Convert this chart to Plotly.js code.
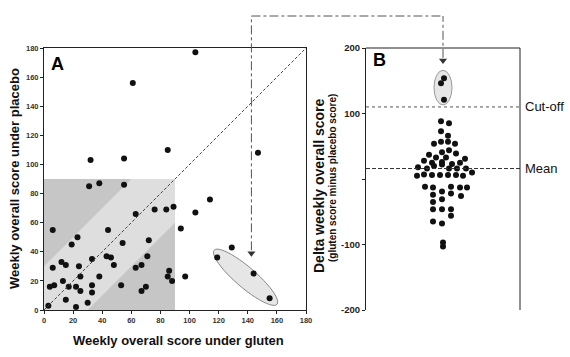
<!DOCTYPE html>
<html><head><meta charset="utf-8">
<script src="https://cdn.plot.ly/plotly-3.0.1.min.js"></script>
<style>html,body{margin:0;padding:0;background:#fff}#chart{width:570px;height:357px}</style>
</head><body><div id="chart"></div>
<script>
// Panel A: weekly overall score under gluten (x) vs placebo (y)
const gluten  = [104,61,147,85,32,55,31,38,55,114,89,84,76,104,63,6,94,44,23,54,72,19,129,33,43,46,71,119,12,15,24,48,67,63,6,86,85,88,97,38,25,13,144,7,4,17,22,33,53,70,25,33,67,15,30,3,22,155];
const placebo = [177,156,108,110,103,104,85,87,86,76,71,69,69,67,66,55,56,55,50,46,48,45,43,35,37,36,37,36,33,31,30,31,31,29,29,27,23,20,23,23,23,20,25,17,16,16,16,17,17,16,13,12,13,7,5,3,2,8];
const axisTicksA = [0,20,40,60,80,100,120,140,160,180];

// Panel B: delta (gluten - placebo), beeswarm offsets
const deltaOffset = [1,-2,1,
  -2,6,-2,5,-9,-2,5,12,-1,6,13,-14,-7,3,22,-19,-11,-1,9,17,
  -25,-16,-9,-1,6,14,23,-26,-19,-11,-3,5,13,20,29,
  -18,-10,-1,8,17,24,-10,8,18,-1,-10,-10,-1,8,8,-10,-1,0,0];
const deltaScore = [154,146,121,
  88,85,73,66,54,57,57,54,41,44,39,37,33,33,31,28,25,26,23,25,
  18,16,20,22,16,16,16,5,7,6,6,6,6,5,10,
  -12,-13,-19,-12,-13,-13,-24,-22,-26,-31,-35,-46,-46,-46,-56,-65,-68,-97,-103];
const cutoffValue = 110;
const meanValue = 16;
const tickValsB = [-200,-100,0,100,200];
const tickTextB = ['-200','-100','','100','200'];

// connector arrows
const arrowA = {x:142.5, y:37};
const arrowB = {x:0, y:177};

const W=570,H=357;
const px=x=>x/W, py=y=>1-y/H;
const domAx=[px(44),px(306)], domAy=[py(310),py(48)];
const domBx=[px(366),px(520)];
const rangeA=[0,180], rangeBx=[-77,77], rangeBy=[-200,200];
const yPaperA=v=>domAy[0]+(v-rangeA[0])/(rangeA[1]-rangeA[0])*(domAy[1]-domAy[0]);
const yPaperB=v=>domAy[0]+(v-rangeBy[0])/(rangeBy[1]-rangeBy[0])*(domAy[1]-domAy[0]);
const xPaperA=v=>domAx[0]+(v-rangeA[0])/(rangeA[1]-rangeA[0])*(domAx[1]-domAx[0]);
const xPaperB=v=>domBx[0]+(v-rangeBx[0])/(rangeBx[1]-rangeBx[0])*(domBx[1]-domBx[0]);

// ellipse path (A)
function ellipsePath(cx,cy,a,b,angDeg){
  const t=angDeg*Math.PI/180;let d='';
  for(let i=0;i<=48;i++){const u=i/48*2*Math.PI;
    const ex=a*Math.cos(u),ey=b*Math.sin(u);
    const X=cx+ex*Math.cos(t)-ey*Math.sin(t),Y=cy+ex*Math.sin(t)+ey*Math.cos(t);
    d+=(i?'L':'M')+X.toFixed(2)+','+Y.toFixed(2);}
  return d+'Z';
}
const band=30, sq=90;
const topPix=16;
const lineCol='#222';
const FAM='Liberation Sans, Arial, sans-serif';

const traces=[
 {type:'scatter',mode:'markers',x:gluten,y:placebo,xaxis:'x',yaxis:'y',cliponaxis:false,
  marker:{size:6,color:'#111'},hoverinfo:'skip'},
 {type:'scatter',mode:'markers',x:deltaOffset,y:deltaScore,xaxis:'x2',yaxis:'y2',cliponaxis:false,
  marker:{size:6,color:'#111'},hoverinfo:'skip'},
 {type:'scatter',mode:'markers',x:[arrowA.x],y:[arrowA.y+2],xaxis:'x',yaxis:'y',cliponaxis:false,
  marker:{symbol:'triangle-down',size:7,color:'#333'},hoverinfo:'skip'},
 {type:'scatter',mode:'markers',x:[arrowB.x],y:[arrowB.y+4],xaxis:'x2',yaxis:'y2',cliponaxis:false,
  marker:{symbol:'triangle-down',size:7,color:'#333'},hoverinfo:'skip'}
];

const tickFontA={family:FAM,size:7.5,color:'#333',weight:700};
const tickFontB={family:FAM,size:9.5,color:'#222',weight:700};

function ann(x,y,text,size,opts){
  return Object.assign({xref:'paper',yref:'paper',x:px(x),y:py(y),text:text,showarrow:false,
    xanchor:'center',yanchor:'middle',font:{family:FAM,size:size,color:'#111',weight:700}},opts||{});
}

const layout={
 width:W,height:H,margin:{l:0,r:0,t:0,b:0},paper_bgcolor:'#fff',plot_bgcolor:'rgba(0,0,0,0)',
 showlegend:false,
 xaxis:{domain:domAx,range:rangeA,anchor:'y',tickvals:axisTicksA,ticks:'outside',ticklen:3,tickcolor:lineCol,
   showline:true,mirror:true,linecolor:lineCol,linewidth:1,showgrid:false,zeroline:false,tickfont:tickFontA},
 yaxis:{domain:domAy,range:rangeA,anchor:'x',tickvals:axisTicksA,ticks:'outside',ticklen:3,tickcolor:lineCol,
   showline:true,mirror:true,linecolor:lineCol,linewidth:1,showgrid:false,zeroline:false,tickfont:tickFontA},
 xaxis2:{domain:domBx,range:rangeBx,anchor:'y2',showline:false,showticklabels:false,ticks:'',showgrid:false,zeroline:false},
 yaxis2:{domain:domAy,range:rangeBy,anchor:'x2',tickvals:tickValsB,ticktext:tickTextB,ticks:'outside',ticklen:3,tickcolor:lineCol,
   showline:true,linecolor:lineCol,linewidth:1,showgrid:false,zeroline:false,tickfont:tickFontB},
 shapes:[
  {type:'rect',xref:'x',yref:'y',x0:0,x1:sq,y0:0,y1:sq,fillcolor:'#c6c6c6',line:{width:0},layer:'below'},
  {type:'path',xref:'x',yref:'y',path:`M0,0L${band},0L${sq},${sq-band}L${sq},${sq}L${sq-band},${sq}L0,${band}Z`,fillcolor:'#dedede',line:{width:0},layer:'below'},
  {type:'line',xref:'x',yref:'y',x0:rangeA[0],y0:rangeA[0],x1:rangeA[1],y1:rangeA[1],line:{color:'#444',width:1,dash:'3px,2px'}},
  {type:'path',xref:'x',yref:'y',path:ellipsePath(138.5,22.5,28.5,7,-40.7),fillcolor:'#e6e6e6',line:{color:'#888',width:1},layer:'below'},
  {type:'circle',xref:'x2',yref:'y2',x0:-9,x1:9,y0:113,y1:166,fillcolor:'#e6e6e6',line:{color:'#999',width:1},layer:'below'},
  {type:'line',xref:'x2',yref:'y2',x0:rangeBx[0],x1:rangeBx[1],y0:cutoffValue,y1:cutoffValue,line:{color:'#555',width:1,dash:'dot'}},
  {type:'line',xref:'x2',yref:'y2',x0:rangeBx[0],x1:rangeBx[1],y0:meanValue,y1:meanValue,line:{color:'#333',width:1,dash:'4px,2px'}},
  {type:'line',xref:'paper',yref:'paper',x0:domBx[0],x1:domBx[1],y0:domAy[1],y1:domAy[1],line:{color:lineCol,width:1}},
  {type:'line',xref:'paper',yref:'paper',x0:domBx[1],x1:domBx[1],y0:domAy[0],y1:domAy[1],line:{color:lineCol,width:1}},
  {type:'line',xref:'x',yref:'paper',x0:arrowA.x,x1:arrowA.x,y0:yPaperA(arrowA.y+4),y1:py(topPix),line:{color:'#555',width:1,dash:'dashdot'}},
  {type:'line',xref:'paper',yref:'paper',x0:xPaperA(arrowA.x),x1:xPaperB(arrowB.x),y0:py(topPix),y1:py(topPix),line:{color:'#555',width:1,dash:'dashdot'}},
  {type:'line',xref:'x2',yref:'paper',x0:arrowB.x,x1:arrowB.x,y0:yPaperB(arrowB.y+8),y1:py(topPix),line:{color:'#555',width:1,dash:'dashdot'}}
 ],
 annotations:[
  ann(14,179,'Weekly overall score under placebo',13,{textangle:-90}),
  ann(178,340,'Weekly overall score under gluten',13),
  ann(57,64,'A',18,{font:{family:FAM,size:18,color:'#000',weight:700}}),
  ann(379,60,'B',18,{font:{family:FAM,size:18,color:'#000',weight:700}}),
  ann(319,186,'Delta weekly overall score',14,{textangle:-90}),
  ann(332,178,'(gluten score minus placebo score)',10,{textangle:-90}),
  {xref:'paper',yref:'y2',x:px(523),y:cutoffValue,xanchor:'left',yanchor:'middle',text:'Cut-off',showarrow:false,
   font:{family:FAM,size:13,color:'#111'}},
  {xref:'paper',yref:'y2',x:px(523),y:meanValue,xanchor:'left',yanchor:'middle',text:'Mean',showarrow:false,
   font:{family:FAM,size:13,color:'#111'}}
 ]
};
Plotly.newPlot('chart',traces,layout,{staticPlot:true,displayModeBar:false});
</script></body></html>
